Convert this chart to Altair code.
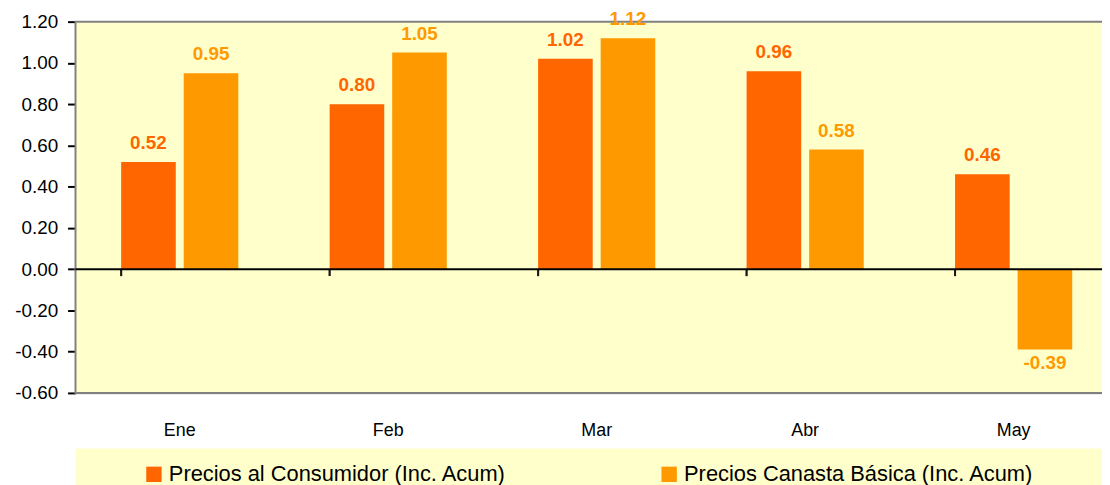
import altair as alt
import pandas as pd

meses = ["Ene", "Feb", "Mar", "Abr", "May"]
consumidor = [0.52, 0.80, 1.02, 0.96, 0.46]
canasta = [0.95, 1.05, 1.12, 0.58, -0.39]
series = ["Precios al Consumidor (Inc. Acum)", "Precios Canasta Básica (Inc. Acum)"]
colores = ["#FF6600", "#FF9900"]
y_ticks = [-0.6, -0.4, -0.2, 0.0, 0.2, 0.4, 0.6, 0.8, 1.0, 1.2]

rows = []
for m, a, b in zip(meses, consumidor, canasta):
    rows.append({"mes": m, "serie": series[0], "valor": a, "etiqueta": f"{a:.2f}"})
    rows.append({"mes": m, "serie": series[1], "valor": b, "etiqueta": f"{b:.2f}"})
df = pd.DataFrame(rows)

W, H = 1034, 374
FONT = "Liberation Sans"

xscale = alt.Scale(range=[0, 1050], paddingInner=0.438, paddingOuter=0.219)
yscale = alt.Scale(domain=[-0.6, 1.2], nice=False, zero=False)
cscale = alt.Scale(domain=series, range=colores)
oscale = alt.Scale(domain=series, paddingInner=0.127, paddingOuter=0)

base = alt.Chart(df)
one = pd.DataFrame({"k": [0]})

x_enc = alt.X("mes:N", sort=meses, scale=xscale, title=None,
              axis=alt.Axis(orient="bottom", domain=False, ticks=False, grid=False,
                            labelAngle=0, labelFontSize=18, labelColor="black",
                            labelFont=FONT, labelPadding=29))

y_enc = alt.Y("valor:Q", scale=yscale, title=None,
              axis=alt.Axis(values=y_ticks,
                            labelExpr="replace(format(datum.value, '.2f'), '\u2212', '-')",
                            labelFontSize=19, labelColor="black", labelFont=FONT,
                            labelPadding=10, domainColor="black", domainWidth=2,
                            tickColor="black", tickWidth=2, tickSize=8,
                            gridColor="#C0C0C0", gridWidth=1.5))

plot_bg = alt.Chart(one).mark_rect(fill="#FFFFCC", stroke="#808080", strokeWidth=2).encode(
    x=alt.value(0), x2=alt.value(1100), y=alt.value(0), y2=alt.value(H)
)

bars = base.mark_bar().encode(
    x=x_enc,
    y=y_enc,
    xOffset=alt.XOffset("serie:N", sort=series, scale=oscale),
    color=alt.Color("serie:N", sort=series, scale=cscale,
                    legend=alt.Legend(orient="none", legendX=68, legendY=445,
                                      direction="horizontal", title=None,
                                      symbolType="square", symbolSize=240,
                                      symbolStrokeWidth=0, labelFontSize=22,
                                      labelFont=FONT, labelColor="black",
                                      labelOffset=4, columnPadding=153,
                                      labelLimit=600, padding=0)),
)

legend_box = alt.Chart(one).mark_rect(color="#FFFFCC").encode(
    x=alt.value(0), x2=alt.value(1100), y=alt.value(430), y2=alt.value(480)
)

zero = alt.Chart(one).mark_rule(color="black", strokeWidth=2).encode(
    y=alt.datum(0, scale=yscale)
)

ticks = base.mark_tick(orient="vertical", color="black", size=7, thickness=2, yOffset=3.5).encode(
    x=alt.X("mes:N", sort=meses, scale=xscale, bandPosition=0),
    y=alt.datum(0),
)

lab_pos = base.transform_filter("datum.valor >= 0").mark_text(
    baseline="alphabetic", dy=-13, fontSize=19, fontWeight="bold", font=FONT
).encode(
    x=alt.X("mes:N", sort=meses, scale=xscale),
    y=alt.Y("valor:Q", scale=yscale),
    xOffset=alt.XOffset("serie:N", sort=series, scale=oscale),
    text="etiqueta:N",
    color=alt.Color("serie:N", sort=series, scale=cscale, legend=None),
)

lab_neg = base.transform_filter("datum.valor < 0").mark_text(
    baseline="top", dy=5, fontSize=19, fontWeight="bold", font=FONT
).encode(
    x=alt.X("mes:N", sort=meses, scale=xscale),
    y=alt.Y("valor:Q", scale=yscale),
    xOffset=alt.XOffset("serie:N", sort=series, scale=oscale),
    text="etiqueta:N",
    color=alt.Color("serie:N", sort=series, scale=cscale, legend=None),
)

chart = alt.layer(plot_bg, legend_box, bars, zero, ticks, lab_pos, lab_neg).properties(
    width=W, height=H,
    autosize=alt.AutoSizeParams(type="none"),
    padding={"left": 68, "top": 12, "right": 0, "bottom": 91},
    background="white",
).configure_view(
    stroke=None
).configure(font=FONT)

chart.save("out.html", embed_options={"renderer": "svg", "actions": False})
